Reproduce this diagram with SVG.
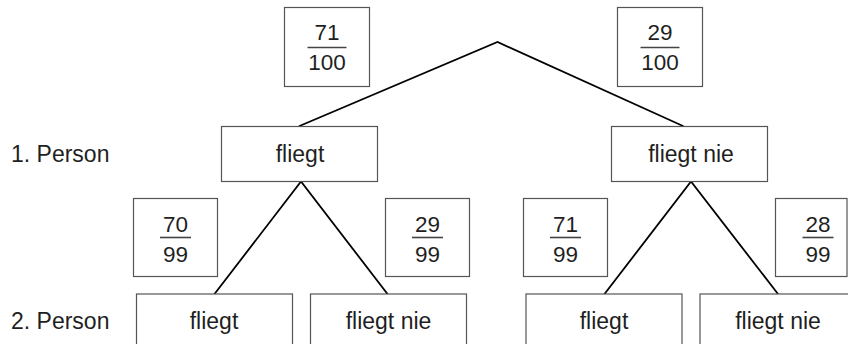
<svg xmlns="http://www.w3.org/2000/svg" width="848" height="344" viewBox="0 0 848 344">
  <style>
    text { font-family: "Liberation Sans", Arial, sans-serif; font-size: 23px; fill: #1f1f1f; text-anchor: middle; }
    .frac { font-size: 22.5px; }
    .lbl { text-anchor: start; }
    .box { fill: #ffffff; stroke: #555555; stroke-width: 1.2; }
    .bar { stroke: #444444; stroke-width: 1.6; }
    .edge { stroke: #000000; stroke-width: 1.8; fill: none; stroke-linecap: round; }
  </style>
  <rect width="848" height="344" fill="#ffffff"/>

  <!-- row labels -->
  <text class="lbl" x="11" y="161.5">1. Person</text>
  <text class="lbl" x="11" y="329">2. Person</text>

  <!-- tree branches -->
  <g id="connectors">
    <polyline class="edge" points="299.5,126 497.5,42 683,126"/>
    <polyline class="edge" points="214.5,294 301,181.5 387.5,294"/>
    <polyline class="edge" points="604.5,294 691,181.5 778,294"/>
  </g>

  <!-- probabilities -->
  <g id="p-71-100" class="frac">
    <rect class="box" x="284.5" y="7.5" width="85" height="79"/>
    <text class="frac" x="327" y="40">71</text>
    <line class="bar" x1="307.5" y1="47.5" x2="346.5" y2="47.5"/>
    <text class="frac" x="327" y="70">100</text>
  </g>
  <g id="p-29-100">
    <rect class="box" x="617.5" y="7.5" width="85" height="79"/>
    <text class="frac" x="660" y="40">29</text>
    <line class="bar" x1="640.5" y1="47.5" x2="679.5" y2="47.5"/>
    <text class="frac" x="660" y="70">100</text>
  </g>
  <g id="p-70-99">
    <rect class="box" x="133.5" y="198.5" width="84" height="78"/>
    <text class="frac" x="175.5" y="231.5">70</text>
    <line class="bar" x1="160" y1="237.5" x2="191" y2="237.5"/>
    <text class="frac" x="175.5" y="261.5">99</text>
  </g>
  <g id="p-29-99">
    <rect class="box" x="385.5" y="198.5" width="84" height="78"/>
    <text class="frac" x="427.5" y="231.5">29</text>
    <line class="bar" x1="412" y1="237.5" x2="443" y2="237.5"/>
    <text class="frac" x="427.5" y="261.5">99</text>
  </g>
  <g id="p-71-99">
    <rect class="box" x="523.5" y="198.5" width="84" height="78"/>
    <text class="frac" x="565.5" y="231.5">71</text>
    <line class="bar" x1="550" y1="237.5" x2="581" y2="237.5"/>
    <text class="frac" x="565.5" y="261.5">99</text>
  </g>
  <g id="p-28-99">
    <rect class="box" x="775.5" y="198.5" width="71.5" height="78"/>
    <text class="frac" x="818" y="231.5">28</text>
    <line class="bar" x1="802.5" y1="237.5" x2="833.5" y2="237.5"/>
    <text class="frac" x="818" y="261.5">99</text>
  </g>

  <!-- first person -->
  <g id="n1-fliegt">
    <rect class="box" x="221.5" y="126.5" width="156" height="55"/>
    <text x="300" y="161.5">fliegt</text>
  </g>
  <g id="n1-fliegt-nie">
    <rect class="box" x="611.5" y="126.5" width="156" height="55"/>
    <text x="691" y="161.5">fliegt nie</text>
  </g>

  <!-- second person -->
  <g id="n2-fliegt-a">
    <rect class="box" x="136.5" y="294" width="156" height="60"/>
    <text x="214" y="329">fliegt</text>
  </g>
  <g id="n2-fliegt-nie-a">
    <rect class="box" x="310.5" y="294" width="156" height="60"/>
    <text x="388.5" y="329">fliegt nie</text>
  </g>
  <g id="n2-fliegt-b">
    <rect class="box" x="526" y="294" width="156" height="60"/>
    <text x="604" y="329">fliegt</text>
  </g>
  <g id="n2-fliegt-nie-b">
    <rect class="box" x="700" y="294" width="156" height="60"/>
    <text x="778" y="329">fliegt nie</text>
  </g>
</svg>
